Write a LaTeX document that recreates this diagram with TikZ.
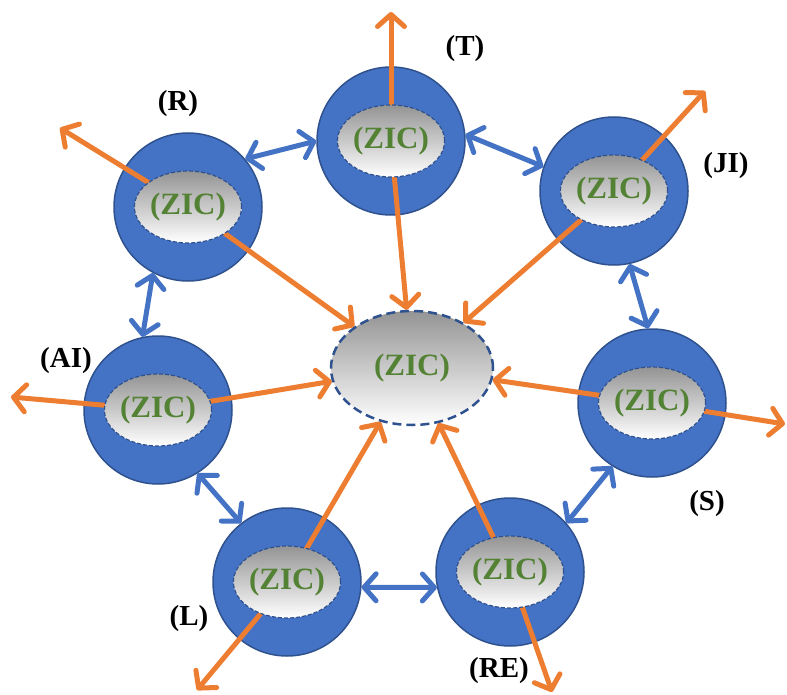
\documentclass[tikz,border=0pt]{standalone}
\usepackage{fontspec}
\setmainfont{Liberation Serif}
\usetikzlibrary{shapes.geometric,arrows.meta}
\definecolor{cblue}{HTML}{4472C4}
\definecolor{cdark}{HTML}{2F528F}
\definecolor{corange}{HTML}{ED7D31}
\definecolor{cgreen}{HTML}{548235}
\pgfdeclarelayer{bg}\pgfdeclarelayer{mid}\pgfsetlayers{bg,mid,main}
\begin{document}
\begin{tikzpicture}[x=1pt,y=-1pt,
 ring/.style={circle,fill=cblue,draw=cdark,line width=1.5pt,minimum size=148pt,inner sep=0pt},
 core/.style={ellipse,draw=cdark,line width=1.2pt,dash pattern=on 4pt off 2pt,top color=black!42,bottom color=white,minimum width=104pt,minimum height=72pt,inner sep=0pt,font=\fontsize{31}{31}\selectfont\bfseries,text=cgreen},
 hub/.style={core,line width=2.5pt,dash pattern=on 9pt off 5pt,minimum width=162pt,minimum height=114pt},
 lab/.style={font=\fontsize{29}{29}\selectfont\bfseries},
 barb/.tip={Straight Barb[length=12pt,width=27pt,round,line width'=5pt]},
 oarrow/.style={draw=corange,line width=5pt,-barb},
 blink/.style={draw=cblue,line width=5pt,barb-barb},
]
\useasboundingbox (0,0) rectangle (787,695);
\begin{pgfonlayer}{bg}
\node[ring] (T) at (391,141) {};
\node[ring] (R) at (188,207) {};
\node[ring] (JI) at (614,191) {};
\node[ring] (AI) at (158,410) {};
\node[ring] (S) at (652,403) {};
\node[ring] (L) at (287,582) {};
\node[ring] (RE) at (510,572) {};
\end{pgfonlayer}
\node[core] (Ti) at (T) {(ZIC)};
\node[core] (Ri) at (R) {(ZIC)};
\node[core] (JIi) at (JI) {(ZIC)};
\node[core] (AIi) at (AI) {(ZIC)};
\node[core] (Si) at (S) {(ZIC)};
\node[core] (Li) at (L) {(ZIC)};
\node[core] (REi) at (RE) {(ZIC)};
\node[hub] (C) at (412,368) {(ZIC)};
\node[lab] (lT) at (465,49) {(T)};
\node[lab] (lR) at (178,104) {(R)};
\node[lab] (lJI) at (726,166) {(JI)};
\node[lab] (lAI) at (66,361) {(AI)};
\node[lab] (lS) at (707,504) {(S)};
\node[lab] (lL) at (189,619) {(L)};
\node[lab] (lRE) at (499,671) {(RE)};
\coordinate (tT) at (391,12);
\coordinate (tR) at (60,128);
\coordinate (tJI) at (705,91);
\coordinate (tAI) at (11,397);
\coordinate (tS) at (785,424);
\coordinate (tL) at (197,690);
\coordinate (tRE) at (552,692);
\begin{pgfonlayer}{mid}
\foreach \n in {T,R,JI,AI,S,L,RE}{
  \draw[oarrow] (\n i.center) -- (t\n);
  \draw[oarrow] (\n i.center) -- (C);
}
\end{pgfonlayer}
\draw[blink] (R.40) -- (T.180);
\draw[blink] (T.5) -- (JI.161);
\draw[blink] (JI.282) -- (S.93);
\draw[blink] (S.238) -- (RE.41);
\draw[blink] (RE.192) -- (L.356);
\draw[blink] (L.128) -- (AI.302);
\draw[blink] (AI.102) -- (R.242);
\end{tikzpicture}
\end{document}
